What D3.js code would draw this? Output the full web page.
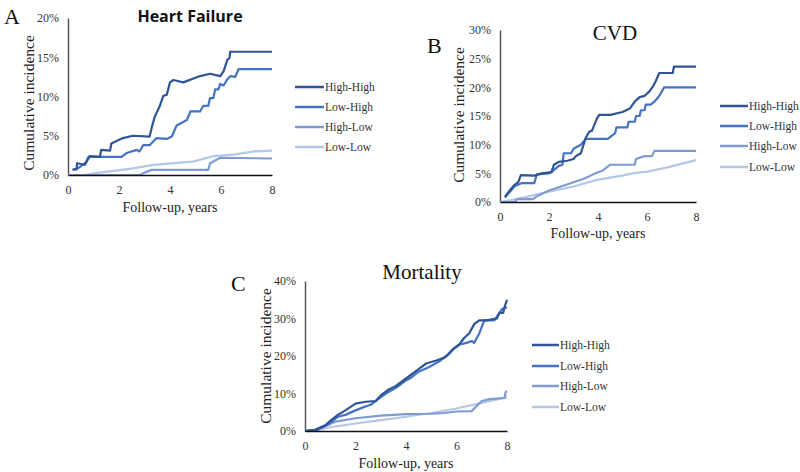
<!DOCTYPE html>
<html><head><meta charset="utf-8">
<script src="https://cdn.jsdelivr.net/npm/d3@7"></script>
<style>body{margin:0;background:#fff}svg{display:block}</style>
</head><body>
<svg id="c" width="800" height="472"></svg>
<script>
const seriesNames = ["High-High", "Low-High", "High-Low", "Low-Low"];
const seriesColors = ["#2F5597", "#4472C4", "#7F9BD6", "#B4C7E7"];
const xTicks = [0, 2, 4, 6, 8];

// Panel A: Heart Failure (years, %)
const hfHighHigh = [[0.17,0.7],[0.33,0.7],[0.36,1.5],[0.66,1.3],[0.8,2.1],[0.86,2.4],[1.25,2.3],[1.3,3.2],[1.65,3.1],[1.7,4.0],[2.15,4.7],[2.55,5.0],[3.2,4.9],[3.28,6.0],[3.4,7.4],[3.6,8.8],[3.74,10.1],[3.87,10.2],[4.0,11.8],[4.13,12.1],[4.52,11.8],[5.18,12.6],[5.57,12.9],[5.97,12.6],[6.1,13.2],[6.25,14.7],[6.33,14.9],[6.36,15.7],[8,15.7]];
const hfLowHigh = [[0.2,0.7],[0.35,0.8],[0.5,1.1],[0.7,1.6],[0.8,2.3],[2.1,2.3],[2.3,2.8],[2.7,3.2],[2.8,3.0],[2.95,3.8],[3.2,3.8],[3.47,4.7],[3.87,4.6],[4.07,4.9],[4.26,6.3],[4.66,7.0],[4.8,8.1],[5.18,8.1],[5.3,8.8],[5.5,8.8],[5.57,9.8],[5.7,9.8],[5.77,10.9],[5.9,10.9],[5.97,11.6],[6.1,11.4],[6.23,12.1],[6.36,12.6],[6.56,12.5],[6.69,13.5],[8,13.5]];
const hfHighLow = [[0,0],[2.82,0],[3.0,0.3],[3.28,0.65],[5.5,0.65],[5.57,1.5],[5.97,2.2],[8,2.1]];
const hfLowLow = [[0,0],[0.6,0],[1.25,0.3],[2.55,0.85],[3.35,1.3],[4.9,1.7],[5.7,2.4],[6.5,2.6],[7.3,3.0],[8,3.1]];

// Panel B: CVD
const cvdHighHigh = [[0.2,0.9],[0.4,2.0],[0.55,2.8],[0.75,3.5],[0.85,4.7],[1.4,4.6],[1.7,5.0],[2.1,5.2],[2.2,6.5],[2.4,7.0],[2.75,7.2],[3.0,7.5],[3.1,8.0],[3.3,8.5],[3.5,11.2],[3.65,12.3],[3.75,12.4],[3.95,14.5],[4.05,15.2],[4.5,15.2],[5.0,15.7],[5.3,16.3],[5.5,17.5],[5.7,18.3],[5.9,18.5],[6.1,19.3],[6.25,20.2],[6.35,21.0],[6.5,22.5],[7.05,22.5],[7.1,23.6],[8,23.6]];
const cvdLowHigh = [[0.2,0.8],[0.45,2.0],[0.6,2.8],[0.9,3.3],[1.4,3.3],[1.5,4.8],[2.0,5.0],[2.1,5.2],[2.4,6.3],[2.55,6.5],[2.6,8.5],[2.9,8.5],[3.0,9.3],[3.3,10.0],[3.5,11.0],[4.4,11.0],[4.7,12.0],[4.75,13.0],[5.2,13.0],[5.25,14.0],[5.5,14.0],[5.55,15.0],[5.7,15.0],[5.75,16.0],[5.9,16.0],[5.95,17.0],[6.15,17.0],[6.3,17.5],[6.5,18.5],[6.7,20.0],[8,20.0]];
const cvdHighLow = [[0,0],[0.6,0],[0.7,0.5],[1.35,0.5],[1.5,1.0],[2.0,2.0],[2.7,3.0],[3.4,4.0],[3.9,5.0],[4.2,5.5],[4.5,6.5],[5.5,6.5],[5.55,7.5],[5.9,8.0],[6.2,8.0],[6.3,8.9],[8,8.9]];
const cvdLowLow = [[0,0],[0.3,0.2],[1.0,0.8],[2.0,1.8],[3.0,2.7],[4.0,3.9],[5.0,4.6],[5.4,5.0],[6.0,5.3],[6.8,6.0],[8,7.3]];

// Panel C: Mortality
const mortHighHigh = [[0,0],[0.4,0.3],[0.8,1.5],[1.0,2.7],[1.3,4.3],[1.6,5.5],[2.0,7.3],[2.4,7.8],[2.8,8.0],[3.0,9.5],[3.3,11.0],[3.6,12.0],[4.0,14.0],[4.2,15.0],[4.5,16.5],[4.8,18.0],[5.2,18.8],[5.5,19.5],[5.7,20.5],[5.9,22.0],[6.1,23.0],[6.3,24.8],[6.5,26.0],[6.7,28.5],[6.9,29.5],[7.2,29.5],[7.4,29.8],[7.6,30.0],[7.7,31.5],[7.85,31.5],[7.9,33.0],[8,35.0]];
const mortLowHigh = [[0,0],[0.5,0.3],[0.9,1.8],[1.3,3.8],[1.6,4.3],[2.0,5.5],[2.3,6.3],[2.6,7.0],[2.9,8.5],[3.2,10.0],[3.6,11.5],[4.0,13.5],[4.2,14.2],[4.5,15.8],[4.9,17.0],[5.3,18.5],[5.6,20.0],[5.8,21.5],[6.1,23.0],[6.4,23.5],[6.6,24.0],[6.7,23.5],[6.9,26.0],[7.1,29.5],[7.5,29.5],[7.6,30.5],[7.8,32.5],[8,33.0]];
const mortHighLow = [[0,0],[0.4,0.3],[0.8,1.3],[1.2,2.5],[2.0,3.4],[3.0,4.1],[4.0,4.5],[5.0,4.6],[5.5,4.8],[6.0,5.2],[6.6,5.3],[6.7,6.0],[7.0,8.0],[7.3,8.5],[7.9,8.8],[7.95,10.5],[8,10.5]];
const mortLowLow = [[0,0],[0.5,0.3],[1.0,1.0],[2.0,2.0],[3.0,2.9],[4.0,3.8],[5.0,4.8],[6.0,6.0],[7.0,7.5],[8,9.0]];

const yTicksA = [0, 5, 10, 15, 20];
const yTicksB = [0, 5, 10, 15, 20, 25, 30];
const yTicksC = [0, 10, 20, 30, 40];

const panels = [
  {letter:"A", title:"Heart Failure", titleFont:"bold 16px 'Open Sans', 'Liberation Sans', sans-serif", titlePos:[190,16],
   letterPos:[4,16], x0:68, x1:272, y0:175, y1:18, yTicks:yTicksA,
   data:[hfHighHigh, hfLowHigh, hfHighLow, hfLowLow], ylab:[28,103], xlab:[170,212],
   legend:{x:295, w:29, ys:[87,107,127,147]}},
  {letter:"B", title:"CVD", titleFont:"21px 'Liberation Serif', serif", titlePos:[615,33],
   letterPos:[427,45], x0:500, x1:696, y0:202, y1:30, yTicks:yTicksB,
   data:[cvdHighHigh, cvdLowHigh, cvdHighLow, cvdLowLow], ylab:[458,115], xlab:[598,238],
   legend:{x:720, w:28, ys:[106,126,146,167]}},
  {letter:"C", title:"Mortality", titleFont:"21px 'Liberation Serif', serif", titlePos:[422,272],
   letterPos:[231,283], x0:305, x1:507, y0:431, y1:281, yTicks:yTicksC,
   data:[mortHighHigh, mortLowHigh, mortHighLow, mortLowLow], ylab:[265,356], xlab:[406,468],
   legend:{x:532, w:27, ys:[345,366,386,407]}}
];

const svg = d3.select("#c");
const serif = "'Liberation Serif', 'Times New Roman', serif";

panels.forEach(p => {
  const x = d3.scaleLinear().domain([0, 8]).range([p.x0, p.x1]);
  const y = d3.scaleLinear().domain([0, d3.max(p.yTicks)]).range([p.y0, p.y1]);
  const g = svg.append("g");

  // y axis
  const ya = g.append("g").attr("transform", `translate(${p.x0},0)`)
    .call(d3.axisLeft(y).tickValues(p.yTicks).tickSize(0).tickPadding(9).tickFormat(d => d + "%"));
  ya.attr("font-family", null);
  ya.select(".domain").attr("stroke", "#555").attr("stroke-width", 1.5);
  ya.selectAll("text").style("font", `12px ${serif}`).attr("fill", "#333");

  // lines
  const line = d3.line().x(d => x(d[0])).y(d => y(d[1]));
  for (let i = p.data.length - 1; i >= 0; i--) {
    g.append("path").datum(p.data[i]).attr("d", line)
      .attr("fill", "none").attr("stroke", seriesColors[i]).attr("stroke-width", 2.2)
      .attr("stroke-linejoin", "round");
  }

  // x axis
  const xa = g.append("g").attr("transform", `translate(0,${p.y0})`)
    .call(d3.axisBottom(x).tickValues(xTicks).tickSize(0).tickPadding(10));
  xa.attr("font-family", null);
  xa.select(".domain").attr("stroke", "#111").attr("stroke-width", 1.5);
  xa.selectAll("text").style("font", `12px ${serif}`).attr("fill", "#333");

  // axis titles
  g.append("text").attr("transform", `translate(${p.ylab[0]},${p.ylab[1]}) rotate(-90)`)
    .attr("text-anchor", "middle").attr("dominant-baseline", "central")
    .style("font", `15.5px ${serif}`).attr("fill", "#222").text("Cumulative incidence");
  g.append("text").attr("x", p.xlab[0]).attr("y", p.xlab[1]).attr("text-anchor", "middle")
    .style("font", `14px ${serif}`).attr("fill", "#222").text("Follow-up, years");

  // titles
  g.append("text").attr("x", p.titlePos[0]).attr("y", p.titlePos[1]).attr("text-anchor", "middle")
    .attr("dominant-baseline", "central").style("font", p.titleFont).attr("fill", "#111").text(p.title);
  g.append("text").attr("x", p.letterPos[0]).attr("y", p.letterPos[1])
    .attr("dominant-baseline", "central").style("font", `22px ${serif}`).attr("fill", "#111").text(p.letter);

  // legend
  seriesNames.forEach((n, i) => {
    const ly = p.legend.ys[i];
    g.append("line").attr("x1", p.legend.x).attr("x2", p.legend.x + p.legend.w)
      .attr("y1", ly).attr("y2", ly).attr("stroke", seriesColors[i]).attr("stroke-width", 2.5);
    g.append("text").attr("x", p.legend.x + p.legend.w + 1).attr("y", ly)
      .attr("dominant-baseline", "central").style("font", `11.5px ${serif}`).attr("fill", "#333").text(n);
  });
});
</script>
</body></html>
